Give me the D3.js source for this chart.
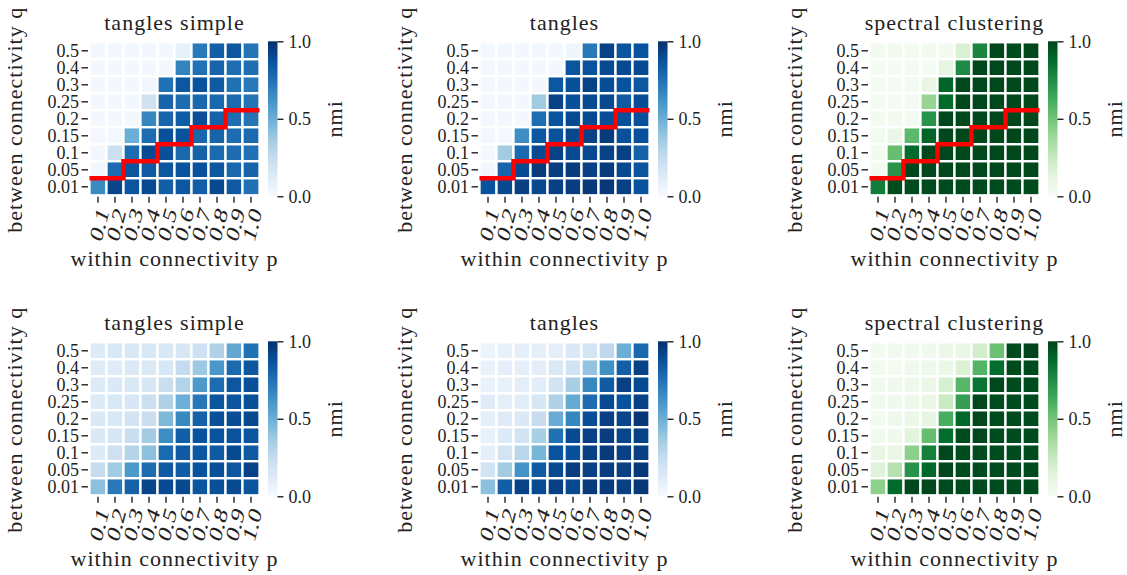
<!DOCTYPE html>
<html>
<head>
<meta charset="utf-8">
<script src="https://cdn.jsdelivr.net/npm/d3@7"></script>
<style>
  body { margin: 0; background: #fff; }
  text { font-family: "Liberation Serif", "DejaVu Serif", serif; fill: #222; }
</style>
</head>
<body>
<div id="chart"></div>
<script>
// axis categories
const pLabels = ["0.1", "0.2", "0.3", "0.4", "0.5", "0.6", "0.7", "0.8", "0.9", "1.0"];
const qLabels = ["0.01", "0.05", "0.1", "0.15", "0.2", "0.25", "0.3", "0.4", "0.5"];
const cbarTicks = [0, 0.5, 1];

// nmi values, rows from q = 0.5 (top) down to q = 0.01 (bottom)
const topTanglesSimple = [
  [0.02, 0.02, 0.02, 0.02, 0.02, 0.08, 0.72, 0.82, 0.85, 0.74],
  [0.02, 0.02, 0.02, 0.02, 0.02, 0.68, 0.75, 0.80, 0.76, 0.76],
  [0.02, 0.02, 0.02, 0.03, 0.75, 0.85, 0.87, 0.84, 0.75, 0.72],
  [0.02, 0.02, 0.02, 0.20, 0.80, 0.77, 0.79, 0.79, 0.78, 0.74],
  [0.02, 0.02, 0.02, 0.67, 0.80, 0.83, 0.89, 0.81, 0.76, 0.74],
  [0.02, 0.02, 0.50, 0.77, 0.88, 0.87, 0.79, 0.80, 0.77, 0.78],
  [0.02, 0.22, 0.77, 0.90, 0.88, 0.79, 0.81, 0.78, 0.77, 0.75],
  [0.03, 0.77, 0.86, 0.84, 0.85, 0.87, 0.88, 0.85, 0.79, 0.80],
  [0.65, 0.92, 0.86, 0.90, 0.82, 0.85, 0.82, 0.91, 0.84, 0.75]
];
const topTangles = [
  [0.02, 0.02, 0.02, 0.02, 0.02, 0.04, 0.72, 0.93, 0.86, 0.87],
  [0.02, 0.02, 0.02, 0.02, 0.02, 0.86, 0.87, 0.90, 0.90, 0.90],
  [0.02, 0.02, 0.02, 0.02, 0.85, 0.88, 0.93, 0.89, 0.87, 0.85],
  [0.02, 0.02, 0.02, 0.37, 0.93, 0.88, 0.90, 0.91, 0.84, 0.89],
  [0.02, 0.02, 0.02, 0.76, 0.87, 0.90, 0.90, 0.89, 0.88, 0.88],
  [0.02, 0.02, 0.64, 0.85, 0.87, 0.91, 0.93, 0.96, 0.88, 0.88],
  [0.02, 0.36, 0.78, 0.90, 0.93, 0.90, 0.91, 0.93, 0.94, 0.81],
  [0.03, 0.80, 0.90, 0.96, 0.95, 0.96, 0.94, 0.96, 0.90, 0.86],
  [0.87, 0.91, 0.94, 0.91, 0.94, 0.95, 0.97, 0.97, 0.94, 0.87]
];
const topSpectral = [
  [0.03, 0.03, 0.03, 0.03, 0.03, 0.17, 0.78, 0.99, 0.98, 0.99],
  [0.02, 0.02, 0.02, 0.02, 0.12, 0.76, 0.99, 0.99, 0.99, 0.99],
  [0.02, 0.02, 0.02, 0.10, 0.90, 0.99, 0.99, 0.99, 0.99, 0.99],
  [0.02, 0.02, 0.02, 0.40, 0.88, 0.99, 0.99, 0.99, 0.99, 0.99],
  [0.03, 0.03, 0.03, 0.72, 0.99, 0.99, 0.99, 0.99, 0.99, 0.99],
  [0.03, 0.09, 0.56, 0.90, 0.99, 0.99, 0.99, 0.99, 0.99, 0.99],
  [0.03, 0.53, 0.88, 0.99, 0.99, 0.99, 0.99, 0.99, 0.99, 0.99],
  [0.03, 0.72, 0.99, 0.99, 0.99, 0.99, 0.99, 0.99, 0.99, 0.99],
  [0.81, 0.98, 0.98, 0.98, 0.98, 0.98, 0.98, 0.98, 0.98, 0.98]
];
const bottomTanglesSimple = [
  [0.13, 0.15, 0.15, 0.15, 0.15, 0.16, 0.21, 0.32, 0.53, 0.75],
  [0.12, 0.12, 0.14, 0.14, 0.16, 0.25, 0.38, 0.60, 0.78, 0.85],
  [0.13, 0.14, 0.15, 0.16, 0.23, 0.31, 0.59, 0.77, 0.85, 0.88],
  [0.13, 0.15, 0.16, 0.22, 0.32, 0.50, 0.73, 0.86, 0.86, 0.88],
  [0.14, 0.15, 0.19, 0.23, 0.45, 0.66, 0.81, 0.88, 0.89, 0.91],
  [0.14, 0.16, 0.23, 0.36, 0.64, 0.82, 0.87, 0.87, 0.87, 0.86],
  [0.13, 0.21, 0.30, 0.42, 0.78, 0.84, 0.85, 0.84, 0.90, 0.84],
  [0.24, 0.36, 0.59, 0.77, 0.84, 0.83, 0.87, 0.88, 0.85, 0.93],
  [0.42, 0.72, 0.81, 0.92, 0.90, 0.91, 0.86, 0.88, 0.90, 0.86]
];
const bottomTangles = [
  [0.05, 0.08, 0.09, 0.09, 0.10, 0.14, 0.18, 0.27, 0.50, 0.79],
  [0.07, 0.09, 0.09, 0.10, 0.15, 0.19, 0.40, 0.63, 0.82, 0.93],
  [0.07, 0.08, 0.10, 0.11, 0.19, 0.34, 0.66, 0.84, 0.94, 0.90],
  [0.12, 0.10, 0.11, 0.16, 0.32, 0.52, 0.77, 0.90, 0.87, 0.93],
  [0.09, 0.12, 0.14, 0.24, 0.51, 0.67, 0.89, 0.94, 0.92, 0.98],
  [0.08, 0.13, 0.19, 0.34, 0.75, 0.90, 0.94, 0.95, 0.92, 0.93],
  [0.09, 0.18, 0.29, 0.47, 0.87, 0.88, 0.94, 0.96, 0.94, 0.94],
  [0.19, 0.36, 0.62, 0.84, 0.90, 0.95, 0.94, 0.95, 0.94, 0.97],
  [0.42, 0.82, 0.93, 0.90, 0.94, 0.91, 0.96, 0.96, 0.94, 0.97]
];
const bottomSpectral = [
  [0.03, 0.04, 0.04, 0.05, 0.07, 0.09, 0.20, 0.52, 0.98, 1.00],
  [0.04, 0.03, 0.05, 0.06, 0.08, 0.17, 0.58, 0.87, 0.98, 0.98],
  [0.04, 0.05, 0.06, 0.08, 0.18, 0.57, 0.84, 0.99, 0.98, 0.98],
  [0.04, 0.05, 0.07, 0.09, 0.24, 0.68, 0.99, 0.98, 0.98, 0.98],
  [0.03, 0.06, 0.08, 0.11, 0.61, 0.89, 0.99, 0.98, 0.98, 0.98],
  [0.04, 0.05, 0.14, 0.53, 0.87, 0.98, 0.99, 0.98, 0.98, 0.98],
  [0.10, 0.09, 0.43, 0.80, 0.99, 0.98, 0.98, 0.98, 0.98, 0.98],
  [0.15, 0.31, 0.72, 0.89, 0.99, 0.98, 0.98, 0.98, 0.98, 0.98],
  [0.43, 0.88, 0.99, 0.99, 0.98, 0.98, 0.98, 0.98, 0.98, 0.98]
];

// red threshold staircase, in cell units (column boundary, rows below the line)
const stepP = [0, 2, 4, 6, 8, 10];
const stepQ = [1, 2, 3, 4, 5, 5];

const panels = [
  { title: "tangles simple", values: topTanglesSimple, scheme: d3.schemeBlues[9], step: true },
  { title: "tangles", values: topTangles, scheme: d3.schemeBlues[9], step: true },
  { title: "spectral clustering", values: topSpectral, scheme: d3.schemeGreens[9], step: true },
  { title: "tangles simple", values: bottomTanglesSimple, scheme: d3.schemeBlues[9], step: false },
  { title: "tangles", values: bottomTangles, scheme: d3.schemeBlues[9], step: false },
  { title: "spectral clustering", values: bottomSpectral, scheme: d3.schemeGreens[9], step: false }
];

const width = 1127, height = 575;
const gridW = 170, gridH = 153;

const svg = d3.select("#chart").append("svg")
  .attr("width", width)
  .attr("height", height);

const defs = svg.append("defs");

panels.forEach((pn, i) => {
  const col = i % 3, row = Math.floor(i / 3);
  const left = 89.5 + 390 * col;
  const top = 42.3 + 300 * row;
  const qTopDown = qLabels.slice().reverse();

  // matplotlib-style piecewise linear colormap from the 9 brewer colours
  const color = d3.scaleLinear()
    .domain(d3.range(9).map((k) => k / 8))
    .range(pn.scheme)
    .clamp(true);

  const x = d3.scaleBand().domain(pLabels).range([left, left + gridW]);
  const y = d3.scaleBand().domain(qTopDown).range([top, top + gridH]);

  const g = svg.append("g");

  // cells
  const cells = [];
  pn.values.forEach((r, ri) => r.forEach((v, ci) => cells.push({ p: pLabels[ci], q: qTopDown[ri], v: v })));

  g.selectAll("rect.cell")
    .data(cells)
    .enter()
    .append("rect")
    .attr("class", "cell")
    .attr("x", (d) => x(d.p))
    .attr("y", (d) => y(d.q))
    .attr("width", x.bandwidth())
    .attr("height", y.bandwidth())
    .style("fill", (d) => color(d.v))
    .style("stroke", "#ffffff")
    .style("stroke-width", 2.3);

  // staircase
  if (pn.step) {
    const xs = d3.scaleLinear().domain([0, pLabels.length]).range([left, left + gridW]);
    const ys = d3.scaleLinear().domain([0, qLabels.length]).range([top + gridH, top]);
    const line = d3.line()
      .x((d) => xs(d[0]))
      .y((d) => ys(d[1]))
      .curve(d3.curveStepAfter);
    g.append("path")
      .datum(stepP.map((p, k) => [p, stepQ[k]]))
      .attr("d", line)
      .style("fill", "none")
      .style("stroke", "#ff0000")
      .style("stroke-width", 4.5);
  }

  // y axis
  const yAxis = g.append("g")
    .attr("transform", `translate(${left - 1.5},0)`)
    .call(d3.axisLeft(y).tickSize(6.5).tickPadding(2.5));
  yAxis.select(".domain").remove();
  yAxis.selectAll("line").style("stroke", "#222").style("stroke-width", 1.4);
  yAxis.selectAll("text").style("font-size", "18px").style("font-family", null);

  // x axis
  const xAxis = g.append("g")
    .attr("transform", `translate(0,${top + gridH + 1.5})`)
    .call(d3.axisBottom(x).tickSize(6));
  xAxis.select(".domain").remove();
  xAxis.selectAll("line").style("stroke", "#222").style("stroke-width", 1.4);
  xAxis.selectAll("text")
    .attr("y", 0)
    .attr("dy", "0.35em")
    .attr("text-anchor", "end")
    .attr("transform", "translate(5,12) scale(1,1.4) rotate(-70)")
    .style("font-size", "19px")
    .style("font-family", null);

  // axis titles
  g.append("text")
    .attr("x", left + gridW / 2)
    .attr("y", top - 12.3)
    .attr("text-anchor", "middle")
    .style("font-size", "22px")
    .style("letter-spacing", "1px")
    .text(pn.title);

  g.append("text")
    .attr("x", left + gridW / 2)
    .attr("y", top + 224)
    .attr("text-anchor", "middle")
    .style("font-size", "22px")
    .style("letter-spacing", "1px")
    .text("within connectivity p");

  g.append("text")
    .attr("transform", `translate(${left - 68},${top + gridH / 2 + 1}) rotate(-90)`)
    .attr("text-anchor", "middle")
    .style("font-size", "22px")
    .style("letter-spacing", "1px")
    .text("between connectivity q");

  // colorbar
  const cbX = left + 178.5, cbY = top - 1, cbW = 9.5, cbH = 155;
  const gradId = `grad${i}`;
  const grad = defs.append("linearGradient")
    .attr("id", gradId)
    .attr("x1", 0).attr("y1", 1).attr("x2", 0).attr("y2", 0);
  grad.selectAll("stop")
    .data(pn.scheme)
    .enter()
    .append("stop")
    .attr("offset", (d, k) => k / 8)
    .attr("stop-color", (d) => d);

  g.append("rect")
    .attr("x", cbX)
    .attr("y", cbY)
    .attr("width", cbW)
    .attr("height", cbH)
    .style("fill", `url(#${gradId})`);

  const cb = d3.scaleLinear().domain([0, 1]).range([cbY + cbH, cbY]);
  const cbAxis = g.append("g")
    .attr("transform", `translate(${cbX + cbW},0)`)
    .call(d3.axisRight(cb).tickValues(cbarTicks).tickFormat(d3.format(".1f")).tickSize(6).tickPadding(5));
  cbAxis.select(".domain").remove();
  cbAxis.selectAll("line").style("stroke", "#222").style("stroke-width", 1.4);
  cbAxis.selectAll("text").style("font-size", "18px").style("font-family", null);

  g.append("text")
    .attr("transform", `translate(${cbX + 74},${top + gridH / 2}) rotate(-90)`)
    .attr("text-anchor", "middle")
    .style("font-size", "22px")
    .style("letter-spacing", "1px")
    .text("nmi");
});
</script>
</body>
</html>
